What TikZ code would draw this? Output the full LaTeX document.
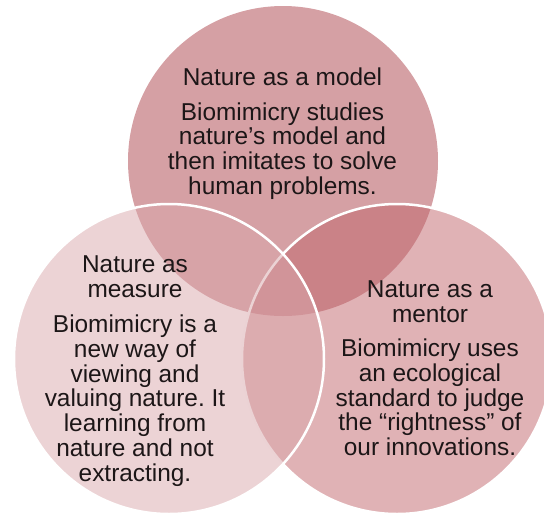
\documentclass[tikz,border=0pt]{standalone}
\usepackage{fontspec}
\setmainfont{Liberation Sans}
\usepackage{xcolor}
\usetikzlibrary{positioning}
\definecolor{modelrose}{RGB}{213,160,164}
\definecolor{mentorrose}{RGB}{193,101,107}
\definecolor{measurerose}{RGB}{217,167,171}
\definecolor{venntext}{RGB}{28,22,23}
\frenchspacing
\tikzstyle{venncircle}=[circle,minimum size=310pt,inner sep=0pt]
\tikzstyle{overlay}=[fill opacity=0.5,draw=white,draw opacity=1,line width=2.5pt]
\tikzstyle{venntxt}=[align=center,inner sep=0pt,anchor=north,text=venntext,font=\fontsize{24.4}{24.7}\selectfont]

\begin{document}
\begin{tikzpicture}[x=1pt,y=-1pt]
            \useasboundingbox (0,0) rectangle (544,515);
            \clip (0,0) rectangle (544,515);
            \node (model)[venncircle,fill=modelrose] at (283,161) {};
            \node (mentor)[venncircle,overlay,fill=mentorrose] at (397,359) {};
            \node (measure)[venncircle,overlay,fill=measurerose] at (169,359) {};
            \node (modeltxt)[venntxt] at (282.5,67.5) {Nature as a model\\[10pt]Biomimicry studies\\nature's model and\\then imitates to solve\\human problems.};
            \node (measuretxt)[venntxt] at (135,255.5) {Nature as\\measure\\[11pt]Biomimicry is a\\new way of\\viewing and\\valuing nature. It\\learning from\\nature and not\\extracting.};
            \node (mentortxt)[venntxt] at (430,280.5) {Nature as a\\mentor\\[10pt]Biomimicry uses\\an ecological\\standard to judge\\the ``rightness'' of\\our innovations.};
        \end{tikzpicture}
\end{document}
